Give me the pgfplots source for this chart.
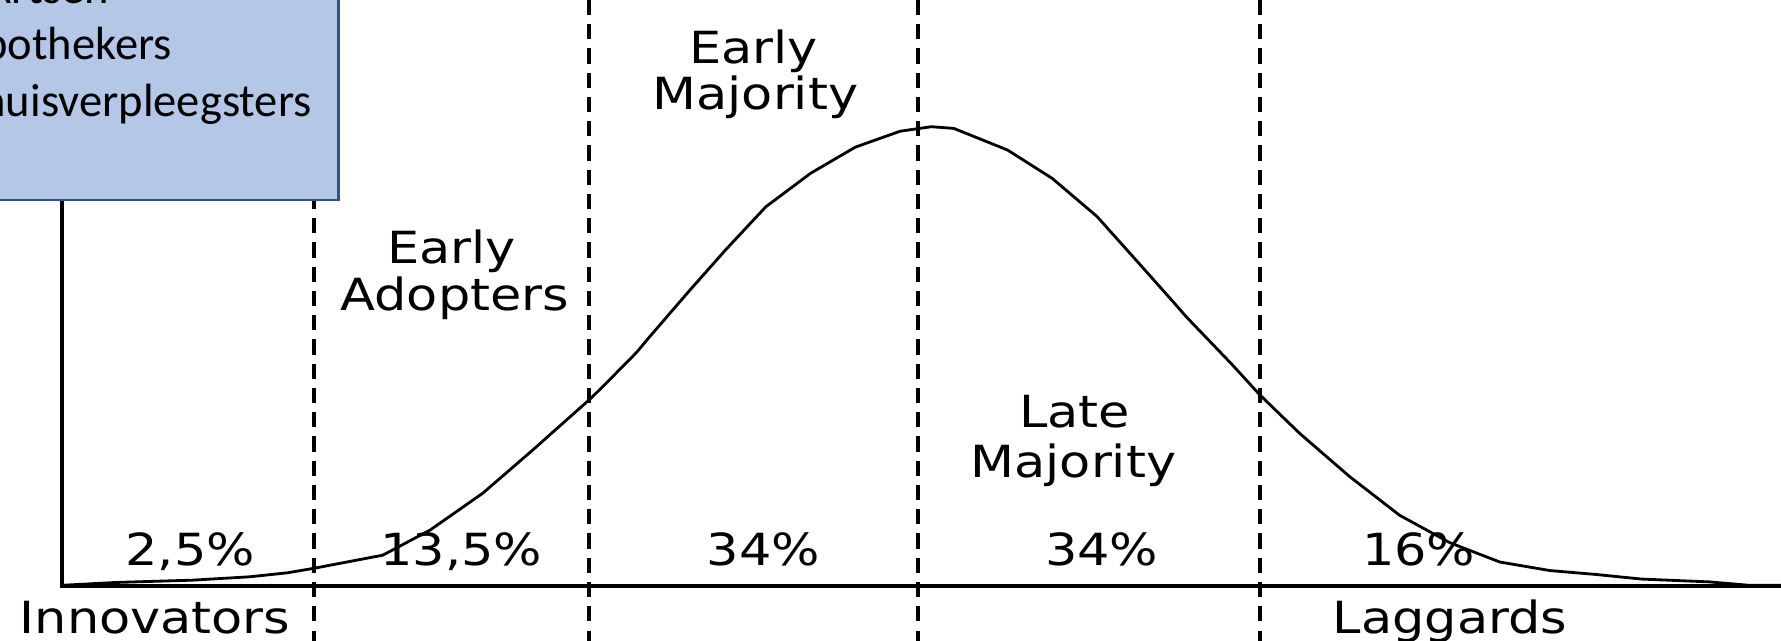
\documentclass[border=0pt]{standalone}
\usepackage{fontspec}
\setmainfont{DejaVu Sans}
\newfontfamily\calibri{Carlito}
\usepackage{graphicx}
\usepackage{pgfplots}
\pgfplotsset{compat=1.18}
\definecolor{boxfill}{HTML}{B4C7E7}
\definecolor{boxline}{HTML}{2F528F}
\newcommand{\lbl}[1]{\scalebox{1.15}[1]{\fontsize{12.6}{14}\selectfont #1}}
\begin{document}
\begin{tikzpicture}
\begin{axis}[scale only axis, width=17.81cm, height=6.41cm,
  xmin=0, xmax=1568, ymin=-48.5, ymax=515.5, hide axis, clip=true]
% category boundaries
\addplot[black, line width=1pt, dash pattern=on 4.3pt off 2.6pt] coordinates {(276.6,515.5) (276.6,-48.5)};
\addplot[black, line width=1pt, dash pattern=on 4.3pt off 2.6pt] coordinates {(518.5,515.5) (518.5,-48.5)};
\addplot[black, line width=1pt, dash pattern=on 4.3pt off 2.6pt] coordinates {(808,515.5) (808,-48.5)};
\addplot[black, line width=1pt, dash pattern=on 4.3pt off 2.6pt] coordinates {(1109.2,515.5) (1109.2,-48.5)};
% axes
\addplot[black, line width=1.1pt] coordinates {(54.6,515.5) (54.6,0) (1568,0)};
% adoption curve
\addplot[black, line width=0.8pt] coordinates {
(54.6,0.5) (102,3) (169,5) (220,8) (253,11.5) (276.6,15.5) (337,27) (378.5,49)
(425,81.5) (469,119.5) (518.5,163.5) (530.4,175) (560.5,205.5) (571.8,219)
(607.2,260) (638.7,295.5) (674.2,333.5) (713.6,363) (753,386) (792.4,400)
(820,404) (839.7,402.5) (887,383.5) (926.4,358.5) (965.8,325) (1005.2,281)
(1032.8,250) (1044.6,236.5) (1084,195.5) (1109.2,168) (1144.4,134) (1188.4,96)
(1232.4,62) (1276.4,38) (1320.4,21) (1364.4,13.5) (1405.5,10) (1445,6)
(1505,3.5) (1540,0.5) (1568,0.5)};
% box
\draw[fill=boxfill, draw=boxline, line width=0.6pt] (axis cs:-20,339.5) rectangle (axis cs:298,540);
\node[anchor=base east, inner sep=0, font=\calibri\fontsize{13.25}{15}\selectfont] at (axis cs:96.8,512) {Artsen};
\node[anchor=base east, inner sep=0, font=\calibri\fontsize{13.25}{15}\selectfont] at (axis cs:152,463.3) {Apothekers};
\node[anchor=base east, inner sep=0, font=\calibri\fontsize{13.25}{15}\selectfont] at (axis cs:275,413) {Thuisverpleegsters};
% labels
\node[anchor=base, inner sep=0] at (axis cs:663.5,459.8) {\lbl{Early}};
\node[anchor=base, inner sep=0] at (axis cs:665,418.7) {\lbl{Majority}};
\node[anchor=base, inner sep=0] at (axis cs:397.6,283.7) {\lbl{Early}};
\node[anchor=base, inner sep=0] at (axis cs:400.5,242.6) {\lbl{Adopters}};
\node[anchor=base, inner sep=0] at (axis cs:946,139.5) {\lbl{Late}};
\node[anchor=base, inner sep=0] at (axis cs:945,95.5) {\lbl{Majority}};
\node[anchor=base, inner sep=0] at (axis cs:167.5,18) {\lbl{2,5\%}};
\node[anchor=base, inner sep=0] at (axis cs:406,18) {\lbl{13,5\%}};
\node[anchor=base, inner sep=0] at (axis cs:672,18) {\lbl{34\%}};
\node[anchor=base, inner sep=0] at (axis cs:970,18) {\lbl{34\%}};
\node[anchor=base, inner sep=0] at (axis cs:1249,18) {\lbl{16\%}};
\node[anchor=base, inner sep=0] at (axis cs:136.5,-42) {\lbl{Innovators}};
\node[anchor=base, inner sep=0] at (axis cs:1276.5,-42) {\lbl{Laggards}};
\end{axis}
\pgfresetboundingbox
\useasboundingbox (current axis.south west) rectangle (current axis.north east);
\end{tikzpicture}
\end{document}
